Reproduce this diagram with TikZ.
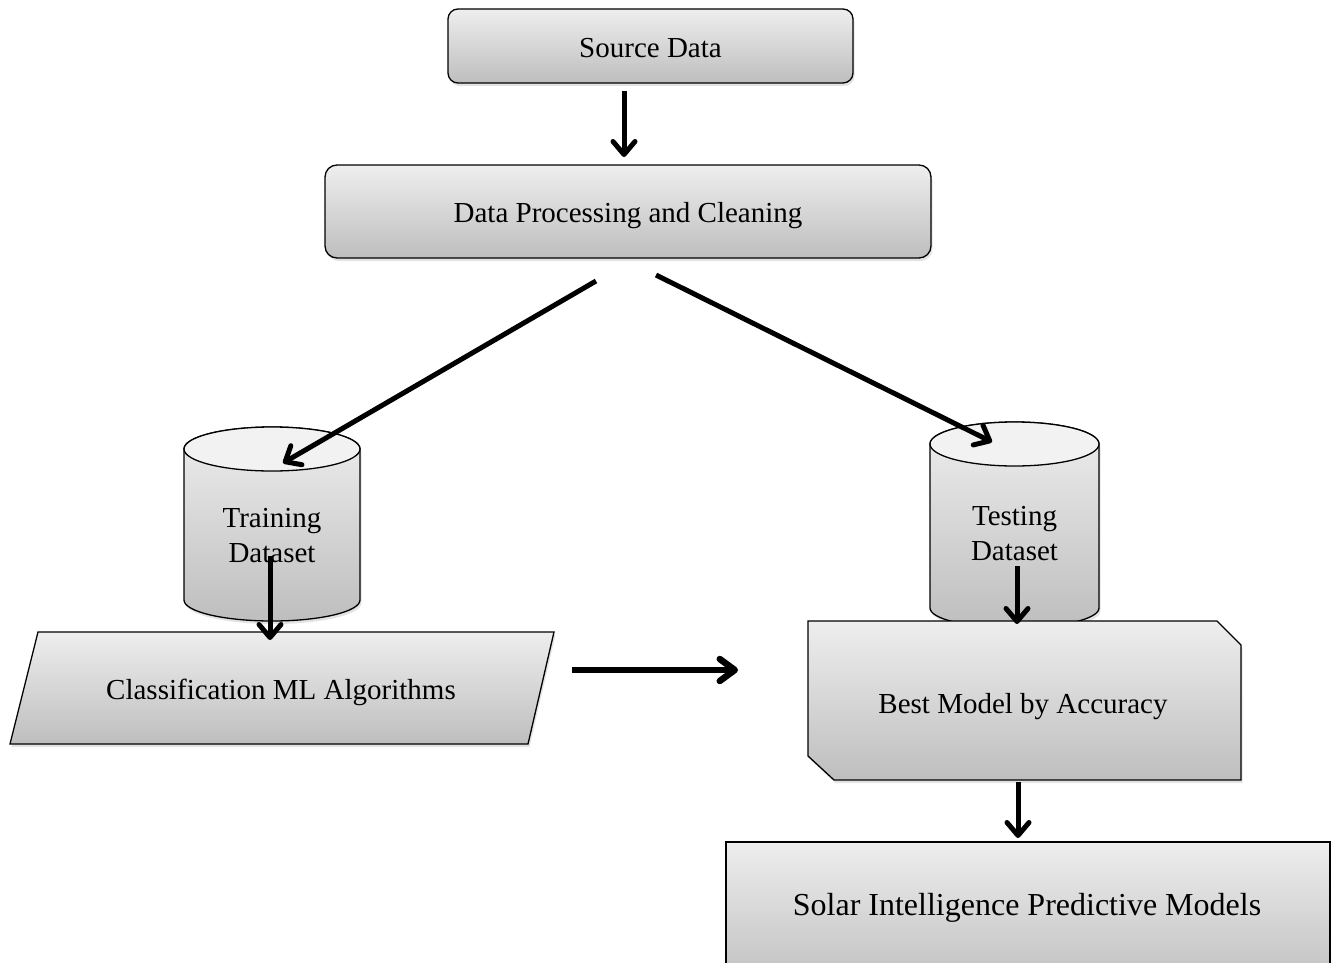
\documentclass[tikz,border=0pt]{standalone}
\usepackage{fontspec}
\setmainfont{Liberation Serif}
\usetikzlibrary{arrows.meta,shadows}
\definecolor{boxtop}{HTML}{EEEEEE}
\definecolor{boxbot}{HTML}{BEBEBE}
\definecolor{captop}{HTML}{F2F2F2}
\begin{document}
\begin{tikzpicture}[x=1pt,y=-1pt,
  boxshade/.style={top color=boxtop,bottom color=boxbot,draw=black,line width=1.3pt},
  shadowed/.style={drop shadow={opacity=0.22,shadow xshift=1.5pt,shadow yshift=-3pt}},
  lbl/.style={font=\fontsize{29}{35}\selectfont,align=center,inner sep=0pt},
  biglbl/.style={font=\fontsize{32}{39}\selectfont,align=center,inner sep=0pt},
  flow/.style={line width=5pt,-{Straight Barb[length=13pt,width=22pt,round]}},
  heavyflow/.style={line width=6.5pt,-{Straight Barb[length=15pt,width=22pt,round]}},
]
\clip (0,0) rectangle (1335,963);

% rounded process boxes
\node[boxshade,shadowed,rounded corners=10pt,minimum width=405pt,minimum height=74pt,
      inner sep=0pt,outer sep=0pt] (src) at (650.5,46) {};
\node[lbl] at ([yshift=-2pt]src.center) {Source Data};
\node[boxshade,shadowed,rounded corners=12pt,minimum width=606pt,minimum height=93pt,
      inner sep=0pt,outer sep=0pt] (proc) at (628,211.5) {};
\node[lbl] at ([yshift=-4pt]proc.center) {Data Processing and Cleaning};

% training dataset cylinder
\path[boxshade,shadowed] (184,449) -- (184,600)
  arc[start angle=180,end angle=360,x radius=88pt,y radius=21pt] -- (360,449)
  arc[start angle=0,end angle=180,x radius=88pt,y radius=22pt] -- cycle;
\draw[fill=captop,line width=1.3pt] (272,449) ellipse[x radius=88pt,y radius=22pt];
\coordinate (traintop) at (272,449);
\node[lbl] (train) at (272,536) {Training\\Dataset};

% testing dataset cylinder
\path[boxshade,shadowed] (930,444) -- (930,608)
  arc[start angle=180,end angle=360,x radius=84.5pt,y radius=20pt] -- (1099,444)
  arc[start angle=0,end angle=180,x radius=84.5pt,y radius=22pt] -- cycle;
\draw[fill=captop,line width=1.3pt] (1014.5,444) ellipse[x radius=84.5pt,y radius=22pt];
\coordinate (testtop) at (1014.5,444);
\node[lbl] (test) at (1014.5,534) {Testing\\Dataset};

% classification parallelogram
\path[boxshade,shadowed] (38,632) -- (554,632) -- (528,744) -- (10,744) -- cycle;
\coordinate (clstop) at (270,632);
\coordinate (clsright) at (545,670);
\node[lbl] (cls) at (281,692) {Classification ML Algorithms};

% best model, snipped corners
\path[boxshade,shadowed] (808,621) -- (1217,621) -- (1241,645) -- (1241,780)
  -- (834,780) -- (808,756) -- cycle;
\coordinate (besttop) at (1017,621);
\coordinate (bestbot) at (1018,780);
\coordinate (bestleft) at (808,670);
\node[lbl] (best) at (1023,707) {Best Model by Accuracy};

% predictive models box
\path[boxshade] (726,842) rectangle (1330,990);
\coordinate (solartop) at (1018,842);
\node[biglbl] (solar) at (1027,908) {Solar Intelligence Predictive Models};

% connectors
\draw[flow] ([xshift=-26.5pt,yshift=-8pt]src.south) -- ([xshift=-4pt,yshift=8pt]proc.north);
\draw[flow] ([xshift=-32pt,yshift=-23pt]proc.south) -- ([xshift=11pt,yshift=-14pt]traintop);
\draw[flow] ([xshift=28pt,yshift=-17pt]proc.south) -- ([xshift=-22.5pt,yshift=2pt]testtop);
\draw[flow] ([xshift=-2pt,yshift=-20pt]train.center) -- ([yshift=-8pt]clstop);
\draw[heavyflow] ([xshift=27pt]clsright) -- ([xshift=-70pt]bestleft);
\draw[flow] ([xshift=2.5pt,yshift=-32pt]test.center) -- ([yshift=-3pt]besttop);
\draw[flow] ([yshift=-2pt]bestbot) -- ([yshift=4pt]solartop);
\end{tikzpicture}
\end{document}
